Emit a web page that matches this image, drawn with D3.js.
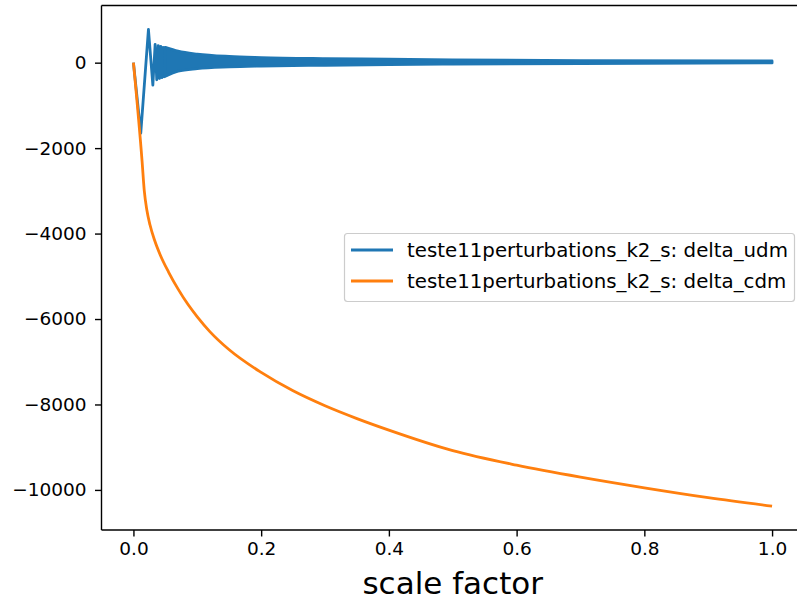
<!DOCTYPE html>
<html>
<head>
<meta charset="utf-8">
<script src="https://cdn.jsdelivr.net/npm/d3@7"></script>
<style>
  html, body { margin: 0; padding: 0; background: #fff; }
  text { font-family: "DejaVu Sans", sans-serif; }
</style>
</head>
<body>
<svg id="chart" width="797" height="601"></svg>
<script>
// ---------------- data ----------------
const seriesNames = ["teste11perturbations_k2_s: delta_udm", "teste11perturbations_k2_s: delta_cdm"];
const seriesColors = ["#1f77b4", "#ff7f0e"];

// delta_cdm (orange) : scale factor / value
const cdmA   = [0, 0.0135, 0.017, 0.021, 0.026, 0.033, 0.042, 0.055, 0.07, 0.085, 0.1, 0.12, 0.15, 0.2, 0.25, 0.3, 0.35, 0.4, 0.5, 0.6, 0.7, 0.8, 0.9, 1.0];
const cdmVal = [0, -2300, -3000, -3450, -3800, -4150, -4500, -4900, -5300, -5650, -5950, -6300, -6720, -7250, -7680, -8030, -8330, -8600, -9080, -9420, -9700, -9950, -10180, -10380];

// delta_udm (blue) : resolved early oscillations
const udmA   = [0, 0.0115, 0.0235, 0.0304, 0.034, 0.0365, 0.0388, 0.0408, 0.0428, 0.0446, 0.0464, 0.048, 0.0496, 0.051];
const udmVal = [0, -1650, 780, -525, 430, -400, 400, -370, 380, -350, 360, -330, 350, -320];

// delta_udm (blue) : envelope of the dense oscillation band
const bandA     = [0.05, 0.07, 0.1, 0.15, 0.2, 0.3, 0.4, 0.5, 0.7, 1.0];
const bandUpper = [360, 270, 200, 145, 120, 95, 80, 65, 50, 40];
const bandLower = [-320, -200, -140, -100, -80, -60, -45, -35, -20, -5];

const xTicks = [0, 0.2, 0.4, 0.6, 0.8, 1.0];
const yTicks = [0, -2000, -4000, -6000, -8000, -10000];
const xLabel = "scale factor";

// ---------------- layout ----------------
const svg = d3.select("#chart");
const mLeft = 101.5, mRight = 804, mTop = 5.5, mBottom = 530;

const allX = cdmA.concat(udmA, bandA);
const allY = cdmVal.concat(udmVal, bandUpper, bandLower);
const xMin = d3.min(allX), xMax = d3.max(allX);
const yMin = d3.min(allY), yMax = d3.max(allY);
const xPad = (xMax - xMin) * 0.05, yPad = (yMax - yMin) * 0.05;

const x = d3.scaleLinear().domain([xMin - xPad, xMax + xPad]).range([mLeft, mRight]);
const y = d3.scaleLinear().domain([yMin - yPad, yMax + yPad]).range([mBottom, mTop]);

const fmtY = d => (d < 0 ? "\u2212" + Math.abs(d) : String(d));

// clip
svg.append("defs").append("clipPath").attr("id", "clip")
  .append("rect").attr("x", mLeft).attr("y", mTop).attr("width", mRight - mLeft).attr("height", mBottom - mTop);

const plot = svg.append("g").attr("clip-path", "url(#clip)");

// blue series
const lw = 2.8;
plot.append("path")
  .datum(udmA.map((a, i) => [a, udmVal[i]]))
  .attr("d", d3.line().x(d => x(d[0])).y(d => y(d[1])))
  .attr("fill", "none").attr("stroke", seriesColors[0]).attr("stroke-width", lw)
  .attr("stroke-linejoin", "round");

plot.append("path")
  .datum(bandA.map((a, i) => [a, bandLower[i], bandUpper[i]]))
  .attr("d", d3.area().x(d => x(d[0])).y0(d => y(d[1])).y1(d => y(d[2])).curve(d3.curveMonotoneX))
  .attr("fill", seriesColors[0]).attr("stroke", seriesColors[0]).attr("stroke-width", lw)
  .attr("stroke-linejoin", "round");

// orange series
plot.append("path")
  .datum(cdmA.map((a, i) => [a, cdmVal[i]]))
  .attr("d", d3.line().x(d => x(d[0])).y(d => y(d[1])).curve(d3.curveMonotoneX))
  .attr("fill", "none").attr("stroke", seriesColors[1]).attr("stroke-width", lw)
  .attr("stroke-linejoin", "round").attr("stroke-linecap", "butt");

// axes
const xAxis = d3.axisBottom(x).tickValues(xTicks).tickFormat(d3.format(".1f")).tickSizeOuter(0).tickSize(6.5).tickPadding(5);
const yAxis = d3.axisLeft(y).tickValues(yTicks).tickFormat(fmtY).tickSizeOuter(0).tickSize(6.5).tickPadding(8.5);

const gx = svg.append("g").attr("transform", `translate(0,${mBottom})`).call(xAxis);
const gy = svg.append("g").attr("transform", `translate(${mLeft},0)`).call(yAxis);
[gx, gy].forEach(g => {
  g.select(".domain").remove();
  g.selectAll(".tick line").attr("stroke", "#000").attr("stroke-width", 1.4);
  g.selectAll(".tick text").attr("fill", "#000").style("font-size", "18.5px").style("font-family", "DejaVu Sans");
});

// spines (left, bottom, top; right falls outside view)
svg.append("line").attr("x1", mLeft).attr("x2", mLeft).attr("y1", mTop).attr("y2", mBottom).attr("stroke", "#000").attr("stroke-width", 1.4);
svg.append("line").attr("x1", mLeft).attr("x2", mRight).attr("y1", mBottom).attr("y2", mBottom).attr("stroke", "#000").attr("stroke-width", 1.4);
svg.append("line").attr("x1", mLeft).attr("x2", mRight).attr("y1", mTop).attr("y2", mTop).attr("stroke", "#000").attr("stroke-width", 1.4);

// x label
svg.append("text").attr("x", (mLeft + mRight) / 2).attr("y", 594)
  .attr("text-anchor", "middle").style("font-size", "31px").attr("fill", "#000").text(xLabel);

// legend
const lg = svg.append("g");
lg.append("rect").attr("x", 344.5).attr("y", 233.5).attr("width", 450).attr("height", 68)
  .attr("rx", 3).attr("fill", "#fff").attr("fill-opacity", 0.8).attr("stroke", "#cccccc").attr("stroke-width", 1.2);
seriesNames.forEach((name, i) => {
  const yy = 250 + i * 31;
  lg.append("line").attr("x1", 351).attr("x2", 393).attr("y1", yy).attr("y2", yy)
    .attr("stroke", seriesColors[i]).attr("stroke-width", lw);
  lg.append("text").attr("x", 407).attr("y", yy + 7).style("font-size", "19.8px").attr("fill", "#000").text(name);
});
</script>
</body>
</html>
